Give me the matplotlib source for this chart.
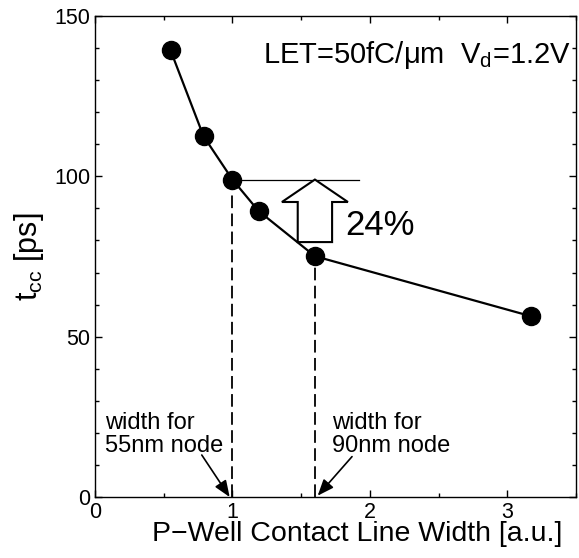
#!/usr/bin/env python3

import matplotlib
matplotlib.use('Agg')
import matplotlib.pyplot as plt
from matplotlib.patches import FancyArrow
from matplotlib.ticker import MultipleLocator

# data
width = [0.55, 0.79, 1.0, 1.19, 1.6, 3.17]
tcc = [139.3, 112.5, 99.0, 89.2, 75.1, 56.4]
node55 = 1.0
node90 = 1.6
xticks = [0, 1, 2, 3]
yticks = [0, 50, 100, 150]


def plot(fileName):
    plt.rcParams['font.family'] = ['Liberation Sans', 'DejaVu Sans']
    plt.rcParams['mathtext.fontset'] = 'custom'
    plt.rcParams['mathtext.rm'] = 'Liberation Sans'
    plt.rcParams['mathtext.it'] = 'Liberation Sans'

    fig = plt.figure(figsize=(5.79, 5.58), dpi=100)
    ax = fig.add_axes([0.164, 0.1093, 0.831, 0.862])

    ax.plot(width, tcc, color='black', lw=1.6, marker='o', ms=13, zorder=3)

    i55 = width.index(node55)
    i90 = width.index(node90)
    ax.plot([node55, node55], [0, tcc[i55]], color='black', lw=1.3,
            dashes=(7, 3))
    ax.plot([node90, node90], [0, tcc[i90]], color='black', lw=1.3,
            dashes=(7, 3))

    # reference level at the 55nm point
    ax.plot([node55, 1.92], [tcc[i55], tcc[i55]], color='black', lw=0.9)

    arr = FancyArrow(node90, tcc[i90] + 4.4, 0, tcc[i55] - tcc[i90] - 4.4,
                     width=0.25, head_width=0.48, head_length=7,
                     length_includes_head=True, fc='white', ec='black',
                     lw=1.5, zorder=2)
    ax.add_patch(arr)
    ax.text(1.82, 81.6, '24%', fontsize=25, va='baseline', ha='left')

    ax.text(3.46, 135.2, r'LET=50fC/$\mu$m  V$_\mathregular{d}$=1.2V',
            fontsize=21, ha='right', va='baseline')

    ax.text(0.073, 14.0, 'width for\n55nm node', fontsize=17, ha='left',
            va='baseline', linespacing=1.05)
    ax.text(1.725, 14.0, 'width for\n90nm node', fontsize=17, ha='left',
            va='baseline', linespacing=1.05)
    arrow = dict(arrowstyle='-|>,head_length=0.55,head_width=0.22',
                 color='black', lw=1.2, shrinkA=0, shrinkB=0,
                 mutation_scale=18)
    ax.annotate('', xy=(node55 - 0.02, 0), xytext=(0.777, 13.1),
                arrowprops=arrow)
    ax.annotate('', xy=(node90 + 0.02, 0.4), xytext=(1.87, 12.6),
                arrowprops=arrow)

    ax.set_xlim(0, 3.5)
    ax.set_ylim(0, 150)
    ax.set_xticks(xticks)
    ax.set_yticks(yticks)
    ax.xaxis.set_minor_locator(MultipleLocator(0.5))
    ax.yaxis.set_minor_locator(MultipleLocator(10))
    ax.tick_params(which='both', direction='in', top=True, right=True,
                   labelsize=15.5, width=1.0)
    ax.tick_params(which='major', length=5)
    ax.tick_params(which='minor', length=3)
    for s in ax.spines.values():
        s.set_linewidth(1.0)

    ax.set_xlabel('P\u2212Well Contact Line Width [a.u.]', fontsize=20.5)
    ax.xaxis.set_label_coords(0.544, -0.05)
    ax.set_ylabel(r't$_\mathregular{cc}$ [ps]', fontsize=22, labelpad=6)

    fig.savefig(fileName, dpi=100)


if __name__ == '__main__':
    plot('out.png')
